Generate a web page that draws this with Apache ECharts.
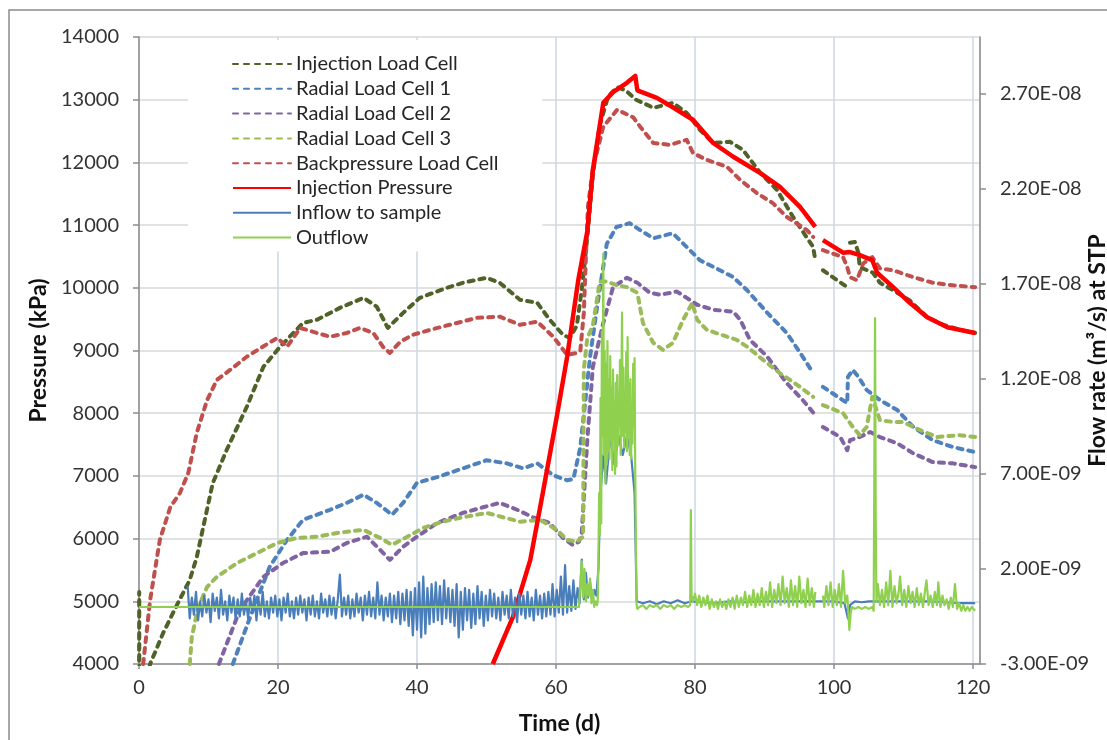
<!DOCTYPE html>
<html>
<head>
<meta charset="utf-8">
<script src="https://cdn.jsdelivr.net/npm/echarts@6/dist/echarts.min.js"></script>
<style>
html,body{margin:0;padding:0;background:#fff;}
#chart{width:1107px;height:740px;}
</style>
</head>
<body>
<div id="chart"></div>
<script>
// ---- data: [time (d), pressure (kPa)] ----
const injectionLoadCell = [[0,3000],[0.03,5150],[0.06,3000],[1.6,4000],[3.5,4500],[5.5,4950],[7.3,5340],[8.3,5700],[10.6,6880],[12.6,7410],[15.5,8100],[17.9,8740],[20.3,9060],[23.6,9440],[25.6,9490],[28.9,9680],[32.3,9840],[34.2,9700],[35.8,9360],[38.0,9600],[40.4,9840],[44.3,10000],[46.6,10080],[50.0,10160],[51.9,10080],[54.8,9810],[57.3,9760],[59.1,9490],[61.0,9250],[62.0,9200],[63.0,9400],[63.7,9970],[64.5,10800],[65.3,11800],[66.3,12600],[67.5,13050],[68.8,13200],[70.0,13150],[71.5,13000],[72.5,12950],[74.0,12870],[76.8,12950],[78.8,12790],[80.7,12520],[82.6,12310],[85.0,12330],[86.9,12200],[89.4,11830],[91.8,11560],[94.1,11130],[97.0,10650],[97.3,10440],[97.8,null],[98.4,10280],[101.9,10010],[102.1,null],[102.3,10720],[103.0,10730],[103.5,10560],[103.7,10330],[105.6,10240],[106.6,10080],[108.5,9960],[110.9,9800],[113.4,9530],[115.7,9410],[118.1,9330],[120.3,9280]];
const radialLoadCell1 = [[13.5,4000],[16.0,4750],[18.8,5550],[21.3,5980],[23.6,6300],[27.5,6460],[29.9,6570],[32.3,6700],[34.2,6570],[36.4,6380],[38.0,6570],[40.0,6890],[42.9,6980],[46.6,7120],[50.0,7250],[52.9,7200],[55.3,7120],[57.3,7200],[59.6,7010],[61.6,6930],[62.5,6950],[63.5,7460],[64.9,8900],[65.9,9690],[67.3,10700],[68.7,10970],[70.6,11030],[72.1,10920],[74.0,10790],[76.8,10870],[78.8,10650],[80.7,10440],[83.6,10280],[85.5,10170],[87.5,9960],[90.4,9600],[93.2,9280],[95.5,8900],[97.0,8640],[97.7,null],[98.4,8420],[101.9,8160],[102.0,8580],[102.7,8690],[103.5,8580],[104.7,8370],[106.6,8210],[109.1,8050],[111.4,7780],[114.2,7570],[117.1,7460],[120.3,7380]];
const radialLoadCell2 = [[11.5,4000],[14.5,4860],[17.9,5390],[20.7,5610],[23.6,5770],[27.5,5790],[29.9,5930],[32.8,6030],[34.7,5820],[36.1,5660],[38.0,5870],[40.0,6030],[42.9,6250],[46.6,6410],[49.5,6500],[51.9,6570],[54.4,6460],[56.7,6340],[59.1,6250],[61.0,6010],[62.4,5900],[63.3,5950],[63.7,6090],[64.5,7570],[65.3,8740],[66.8,9440],[68.2,10010],[70.2,10160],[71.7,10080],[73.5,9920],[75.0,9890],[77.4,9940],[78.8,9840],[80.3,9730],[82.6,9650],[85.5,9620],[86.5,9490],[87.9,9170],[90.4,8900],[93.2,8480],[95.5,8210],[97.3,7970],[97.8,null],[98.4,7780],[100.9,7620],[101.9,7410],[102.3,7570],[103.7,7620],[105.2,7700],[106.6,7620],[109.1,7520],[111.4,7360],[114.2,7220],[117.1,7200],[120.3,7140]];
const radialLoadCell3 = [[7.3,4000],[7.6,4430],[8.5,4900],[9.8,5230],[11.2,5390],[14.1,5610],[17.0,5770],[19.9,5930],[22.7,6010],[25.6,6030],[28.5,6090],[32.3,6140],[34.7,6010],[36.4,5900],[38.6,6030],[40.9,6170],[43.7,6270],[46.6,6340],[50.0,6410],[52.4,6340],[54.8,6270],[57.7,6300],[60.1,6140],[61.6,5980],[63.0,5950],[63.9,6030],[64.0,8700],[64.5,9200],[65.3,9400],[66.3,10100],[67.3,10100],[68.5,10050],[70.2,10010],[71.7,9920],[72.5,9440],[74.0,9120],[75.4,9010],[76.8,9120],[78.3,9490],[79.6,9760],[80.3,9490],[81.7,9330],[84.6,9220],[86.0,9170],[87.5,9060],[89.8,8850],[92.2,8640],[95.1,8420],[97.0,8260],[97.7,null],[98.4,8130],[101.3,8000],[102.7,7780],[103.7,7650],[104.7,7780],[105.5,8260],[106.6,7890],[108.5,7860],[109.9,7860],[112.4,7730],[114.8,7620],[118.1,7650],[120.3,7620]];
const backpressureLoadCell = [[0.6,4000],[1.6,5020],[3.0,5980],[4.5,6500],[5.9,6730],[7.1,7050],[8.3,7680],[9.8,8210],[11.2,8530],[13.1,8690],[15.5,8900],[17.8,9060],[19.9,9200],[21.3,9060],[23.2,9360],[25.6,9280],[27.5,9220],[29.9,9280],[31.8,9360],[33.7,9280],[35.1,9060],[36.1,8960],[37.6,9140],[39.4,9250],[41.9,9330],[44.7,9410],[48.6,9520],[51.9,9540],[54.8,9410],[57.3,9460],[59.6,9220],[61.6,8930],[63.0,8960],[63.5,9000],[64.0,9600],[64.3,10500],[64.6,11300],[65.3,11900],[66.8,12570],[68.8,12840],[71.1,12720],[72.1,12570],[74.0,12310],[76.4,12280],[78.8,12360],[79.7,12150],[81.7,12040],[84.6,11930],[86.5,11720],[88.9,11510],[91.2,11350],[93.2,11130],[96.1,10920],[97.0,10810],[97.7,null],[98.4,10600],[101.3,10490],[101.9,10330],[102.3,10170],[103.3,10120],[104.2,10390],[105.5,10490],[106.6,10310],[108.5,10280],[111.4,10170],[114.2,10080],[117.1,10040],[120.3,10010]];
const injectionPressure = [[50.9,4000],[53.8,4750],[56.3,5660],[58.1,6730],[60.1,7940],[61.6,8900],[63.2,10120],[64.5,10900],[65.3,11880],[66.8,12950],[68.2,13120],[70.2,13270],[71.4,13380],[71.7,13150],[74.5,13030],[76.8,12880],[79.7,12680],[82.6,12310],[85.5,12090],[89.4,11830],[92.2,11610],[95.1,11290],[97.3,10970],[97.8,null],[98.4,10760],[101.3,10560],[102.3,10570],[103.7,10520],[105.5,10440],[106.2,10240],[108.5,10010],[110.9,9760],[113.4,9530],[116.3,9370],[120.3,9280]];
// ---- data: [time (d), flow rate (x1e-9 m3/s)] ----
const inflowToSample = [[7.0,1.1],[7.3,-0.6],[7.6,0.5],[7.9,-0.4],[8.2,0.8],[8.5,-0.7],[8.8,0.3],[9.1,-0.5],[9.4,0.6],[9.7,-0.3],
[10.0,0.4],[10.3,-0.8],[10.6,0.7],[10.9,-0.2],[11.2,0.5],[11.5,-0.6],[11.8,0.9],[12.1,-0.4],[12.4,0.3],[12.7,-0.7],
[13.0,0.6],[13.3,-0.3],[13.6,0.5],[13.9,-0.6],[14.2,0.4],[14.5,-0.5],[14.8,0.7],[15.1,-0.4],[15.4,0.3],[15.7,-0.6],
[16.0,0.5],[16.3,-0.3],[16.6,0.6],[16.9,-0.7],[17.2,0.4],[17.5,-0.4],[17.8,0.8],[18.1,-0.5],[18.4,0.3],[18.7,-0.6],
[19.0,0.5],[19.3,-0.3],[19.6,0.6],[19.9,-0.5],[20.2,0.4],[20.5,-0.7],[20.8,0.5],[21.1,-0.3],[21.4,0.7],[21.7,-0.5],
[22.0,0.3],[22.3,-0.6],[22.6,0.5],[22.9,-0.4],[23.2,0.6],[23.5,-0.3],[23.8,0.4],[24.1,-0.7],[24.4,0.5],[24.7,-0.4],
[25.0,0.6],[25.3,-0.5],[25.6,0.3],[25.9,-0.6],[26.2,0.7],[26.5,-0.3],[26.8,0.4],[27.1,-0.5],[27.4,0.6],[27.7,-0.4],
[28.0,0.5],[28.3,-0.6],[28.6,0.4],[28.9,1.7],[29.2,-0.5],[29.5,0.5],[29.8,-0.4],[30.1,0.6],[30.4,-0.6],[30.7,0.4],
[31.0,-0.5],[31.3,0.7],[31.6,-0.3],[31.9,0.5],[32.2,-0.7],[32.5,0.6],[32.8,-0.4],[33.1,0.8],[33.4,-0.5],[33.7,0.5],
[34.0,-0.6],[34.3,1.3],[34.6,-0.4],[34.9,0.6],[35.2,-0.7],[35.5,0.5],[35.8,-0.5],[36.1,0.7],[36.4,-0.8],[36.7,0.6],
[37.0,-0.6],[37.3,0.8],[37.6,-0.9],[37.9,0.7],[38.2,-0.7],[38.5,0.9],[38.8,-1.0],[39.1,0.8],[39.4,-1.5],[39.7,1.0],
[40.0,-1.2],[40.3,1.3],[40.6,-1.6],[40.9,1.6],[41.2,-1.4],[41.5,1.0],[41.8,-0.9],[42.1,1.2],[42.4,-0.8],[42.7,1.3],
[43.0,-0.7],[43.3,1.1],[43.6,-0.9],[43.9,1.4],[44.2,-0.6],[44.5,1.0],[44.8,-0.8],[45.1,0.9],[45.4,-1.0],[45.7,1.2],
[46.0,-1.6],[46.3,0.8],[46.6,-1.2],[46.9,1.0],[47.2,-0.7],[47.5,0.9],[47.8,-1.1],[48.1,0.7],[48.4,-0.9],[48.7,1.1],
[49.0,-0.6],[49.3,0.8],[49.6,-1.0],[49.9,0.6],[50.2,-0.7],[50.5,0.9],[50.8,-0.5],[51.1,0.7],[51.4,-0.6],[51.7,0.5],
[52.0,-0.7],[52.3,0.8],[52.6,-0.4],[52.9,0.6],[53.2,-0.6],[53.5,0.9],[53.8,-0.5],[54.1,0.5],[54.4,-0.8],[54.7,0.7],
[55.0,-0.4],[55.3,0.6],[55.6,-0.6],[55.9,0.8],[56.2,-0.5],[56.5,0.5],[56.8,-0.7],[57.1,0.9],[57.4,-0.4],[57.7,0.6],
[58.0,-0.6],[58.3,0.7],[58.6,-0.5],[58.9,0.8],[59.2,-0.4],[59.5,1.2],[59.8,-0.5],[60.1,0.9],[60.4,-0.3],[60.7,1.6],
[61.0,-0.4],[61.3,2.2],[61.6,-0.3],[61.9,1.1],[62.2,-0.2],[62.5,1.4],[62.8,-0.1],[63.1,1.0],[63.4,0.2],[63.7,2.5],
[64.0,0.4],[64.3,1.8],[64.6,0.5],[64.9,1.3],[65.2,0.3],[65.5,0.9],[65.8,0.6],[66.1,2.0],[66.4,6.0],[66.8,8.0],
[67.2,6.5],[67.8,9.0],[68.4,7.5],[69.0,9.0],[69.6,8.0],[70.2,9.0],[70.8,8.0],[71.3,6.0],[71.6,0.3],[72.5,0.2],
[73.5,0.3],[74.5,0.15],[75.5,0.3],[76.5,0.2],[77.5,0.35],[78.5,0.2],[79.5,0.3],[81.0,0.25],[83.0,0.2],[85.0,0.3],
[87.0,0.25],[89.0,0.3],[91.0,0.3],[93.0,0.3],[95.0,0.3],[97.0,0.3],[98.5,0.3],[100.0,0.3],[101.5,0.2],[102.0,-0.6],
[102.3,0.1],[103.0,0.3],[104.0,0.25],[105.0,0.3],[106.0,0.3],[108.0,0.3],[110.0,0.3],[112.0,0.3],[114.0,0.3],[116.0,0.25],
[118.0,0.2],[120.3,0.2]];
const outflow = [[0,0],[63.3,0],[63.5,0.1],[63.7,2.4],[63.9,0.5],[64.1,2.0],[64.3,0.3],[64.5,1.2],[64.7,0.6],[64.9,1.5],[65.1,0.2],[65.3,0.9],[65.5,0],[65.7,0.3],[65.9,0.1],
[66.0,0.3],[66.1,2.5],[66.2,6.0],[66.3,3.8],[66.4,11.0],[66.5,4.4],[66.6,14.5],[66.7,9.0],[66.8,18.6],[66.9,8.0],
[67.0,13.5],[67.1,6.5],[67.2,12.8],[67.3,7.5],[67.4,14.0],[67.5,8.2],[67.6,12.0],[67.7,7.8],[67.8,13.2],[67.9,8.8],
[68.0,11.5],[68.1,7.2],[68.2,12.5],[68.3,9.0],[68.4,10.8],[68.5,7.0],[68.6,11.8],[68.7,7.4],[68.8,12.2],[68.9,8.5],
[69.0,11.0],[69.1,9.5],[69.2,13.0],[69.3,8.0],[69.4,11.5],[69.5,15.5],[69.6,9.0],[69.7,12.6],[69.8,8.4],[69.9,11.0],
[70.0,9.2],[70.1,13.4],[70.2,8.2],[70.3,14.2],[70.4,9.0],[70.5,11.8],[70.6,8.0],[70.7,12.0],[70.8,7.8],[70.9,10.5],
[71.0,8.6],[71.1,12.8],[71.2,9.5],[71.3,13.1],[71.4,7.0],[71.5,3.0],[71.6,0.1],[71.7,-0.1],
[72.0,0],[72.5,0.1],[73.0,-0.1],[73.5,0.1],[74.0,0],[74.5,0.1],[75.0,-0.1],[75.5,0.1],[76.0,0],[76.5,0.1],[77.0,-0.1],[77.5,0.1],[78.0,0],[78.5,0.1],[79.0,0],[79.3,0.1],[79.4,5.1],[79.5,0.6],[79.7,0.3],
[80.0,0.7],[80.3,0.1],[80.6,0.6],[80.9,0.0],[81.2,0.5],[81.5,0.1],[81.8,0.6],[82.1,-0.1],[82.4,0.4],[82.7,0.0],
[83.0,0.3],[83.3,-0.1],[83.6,0.4],[83.9,0.0],[84.2,0.3],[84.5,-0.1],[84.8,0.4],[85.1,0.0],[85.4,0.5],[85.7,-0.1],
[86.0,0.6],[86.3,0.0],[86.6,0.5],[86.9,0.1],[87.2,0.8],[87.5,0.0],[87.8,0.6],[88.1,0.1],[88.4,0.9],[88.7,0.0],
[89.0,0.7],[89.3,0.1],[89.6,1.0],[89.9,0.0],[90.2,0.8],[90.5,0.1],[90.8,1.3],[91.1,0.0],[91.4,0.9],[91.7,0.2],
[92.0,1.2],[92.3,0.1],[92.6,1.6],[92.9,0.2],[93.2,1.0],[93.5,0.0],[93.8,1.4],[94.1,0.1],[94.4,1.1],[94.7,0.0],
[95.0,1.6],[95.3,0.2],[95.6,0.9],[95.9,0.0],[96.2,1.5],[96.5,0.1],[96.8,1.0],[97.1,0.0],[97.3,0.8],[97.5,null],
[98.4,0.6],[98.6,0.0],[98.9,1.1],[99.2,0.1],[99.5,1.3],[99.8,0.0],[100.1,0.9],[100.4,0.1],[100.7,1.2],[101.0,0.0],
[101.3,1.9],[101.6,0.2],[101.9,0.6],[102.1,-0.6],[102.2,-1.2],[102.4,-0.3],[102.6,0.0],
[103.0,-0.1],[103.5,0.0],[104.0,-0.1],[104.5,0.0],[105.0,-0.1],[105.5,0.0],[105.7,-0.2],[105.9,15.2],[106.0,4.5],[106.1,0.3],
[106.3,1.2],[106.6,0.1],[106.9,0.9],[107.2,0.0],[107.5,1.3],[107.8,0.1],[108.1,1.9],[108.4,0.0],[108.7,1.1],[109.0,0.2],
[109.3,0.8],[109.5,1.6],[109.8,0.1],[110.1,0.9],[110.4,0.0],[110.7,1.1],[111.0,0.2],[111.3,0.8],[111.6,0.0],[111.9,1.0],
[112.2,0.1],[112.5,0.7],[112.8,0.0],[113.1,0.9],[113.3,1.4],[113.6,0.1],[113.9,0.6],[114.2,0.0],[114.5,0.8],[114.8,0.1],
[115.0,1.3],[115.3,0.0],[115.6,0.6],[115.9,0.1],[116.2,0.4],[116.5,-0.1],[116.8,0.5],[117.1,0.0],[117.4,1.2],[117.7,-0.1],
[118.0,0.2],[118.3,-0.2],[118.6,0.1],[118.9,-0.2],[119.2,0.0],[119.5,-0.2],[119.8,0.0],[120.3,-0.2]];

// ---- axis settings ----
const xTicks = [0, 121, 20];          // min, max, interval (d)
const pressureTicks = [4000, 14000, 1000];
const flowTicks = [-3, 30, 5];        // x1e-9 m3/s

const FONT = 'Lato';
const chart = echarts.init(document.getElementById('chart'), null, {renderer: 'canvas'});

function dashed(name, data, color) {
  return {name, type: 'line', data, yAxisIndex: 0, symbol: 'none', showSymbol: false,
    connectNulls: false, animation: false, z: 2,
    lineStyle: {color, width: 4, type: [5, 6], cap: 'round', join: 'round'},
    itemStyle: {color}};
}
function solid(name, data, color, width, yIdx) {
  return {name, type: 'line', data, yAxisIndex: yIdx, symbol: 'none', showSymbol: false,
    connectNulls: false, animation: false, z: 3,
    lineStyle: {color, width, type: 'solid', join: 'round'},
    itemStyle: {color}};
}
function sci(v) {
  const r = Math.round(v * 1000) / 1000;
  const m = (((r - flowTicks[0]) % flowTicks[2]) + flowTicks[2]) % flowTicks[2];
  if (m > 0.01 && m < flowTicks[2] - 0.01) return '';
  const s = (r * 1e-9).toExponential(2).toUpperCase();
  return s.replace(/E([+-])(\d+)$/, function (a, sg, d) { return 'E' + sg + (d.length < 2 ? '0' + d : d); });
}

const axisLineStyle = {color: '#8c8c8c', width: 1.5};
const labelStyle = {fontFamily: FONT, fontSize: 20, color: '#333'};
const nameStyle = {fontFamily: FONT, fontSize: 23, fontWeight: 'bold', color: '#111'};

chart.setOption({
  backgroundColor: '#fff',
  animation: false,
  textStyle: {fontFamily: FONT},
  graphic: [{type: 'rect', shape: {x: 9, y: 10, width: 1110, height: 740}, style: {fill: 'none', stroke: '#8a8a8a', lineWidth: 1.5}, silent: true, z: -10}],
  grid: {left: 139, right: 127, top: 37, bottom: 76, containLabel: false, outerBoundsMode: 'none'},
  legend: {
    orient: 'vertical', left: 188, top: 40, padding: [14, 44, 4, 44],
    backgroundColor: '#fff', itemWidth: 58, itemHeight: 14, itemGap: 4.8,
    itemStyle: {opacity: 0},
    textStyle: {fontFamily: FONT, fontSize: 20, color: '#262626', lineHeight: 18},
    data: ['Injection Load Cell','Radial Load Cell 1','Radial Load Cell 2','Radial Load Cell 3','Backpressure Load Cell','Injection Pressure','Inflow to sample','Outflow'],
    z: 10
  },
  xAxis: {
    type: 'value', min: xTicks[0], max: xTicks[1], interval: xTicks[2],
    name: 'Time (d)', nameLocation: 'middle', nameGap: 48, nameTextStyle: nameStyle,
    axisLine: {show: true, lineStyle: axisLineStyle, onZero: false},
    axisTick: {show: true, length: 5, lineStyle: axisLineStyle},
    axisLabel: Object.assign({margin: 14, showMaxLabel: false, formatter: v => (v % 20 === 0 ? String(v) : '')}, labelStyle),
    splitLine: {show: true, lineStyle: {color: '#cbd6e4', width: 1.5}}
  },
  yAxis: [{
    type: 'value', min: pressureTicks[0], max: pressureTicks[1], interval: pressureTicks[2], position: 'left',
    name: 'Pressure (kPa)', nameLocation: 'middle', nameGap: 86, nameRotate: 90, nameTextStyle: nameStyle,
    axisLine: {show: true, lineStyle: axisLineStyle},
    axisTick: {show: true, length: 6, lineStyle: axisLineStyle},
    axisLabel: Object.assign({margin: 20, formatter: v => String(v)}, labelStyle),
    splitLine: {show: true, lineStyle: {color: '#d9d9d9', width: 1.5}}
  }, {
    type: 'value', min: flowTicks[0], max: flowTicks[1], interval: flowTicks[2], position: 'right',
    name: 'Flow rate (m³/s) at STP', nameLocation: 'middle', nameGap: 106, nameRotate: 90, nameMoveOverlap: false,
    nameTextStyle: nameStyle,
    axisLine: {show: true, lineStyle: axisLineStyle},
    axisTick: {show: true, length: 6, lineStyle: axisLineStyle},
    axisLabel: Object.assign({margin: 20, showMaxLabel: false, formatter: sci}, labelStyle),
    splitLine: {show: false}
  }],
  series: [
    dashed('Injection Load Cell', injectionLoadCell, '#4f6228'),
    dashed('Radial Load Cell 1', radialLoadCell1, '#4f81bd'),
    dashed('Radial Load Cell 2', radialLoadCell2, '#8064a2'),
    dashed('Radial Load Cell 3', radialLoadCell3, '#9bbb59'),
    dashed('Backpressure Load Cell', backpressureLoadCell, '#c0504d'),
    solid('Injection Pressure', injectionPressure, '#ff0000', 4.5, 0),
    solid('Inflow to sample', inflowToSample, '#4a7ebb', 2.2, 1),
    solid('Outflow', outflow, '#8fd14f', 2.2, 1)
  ]
});
</script>
</body>
</html>
